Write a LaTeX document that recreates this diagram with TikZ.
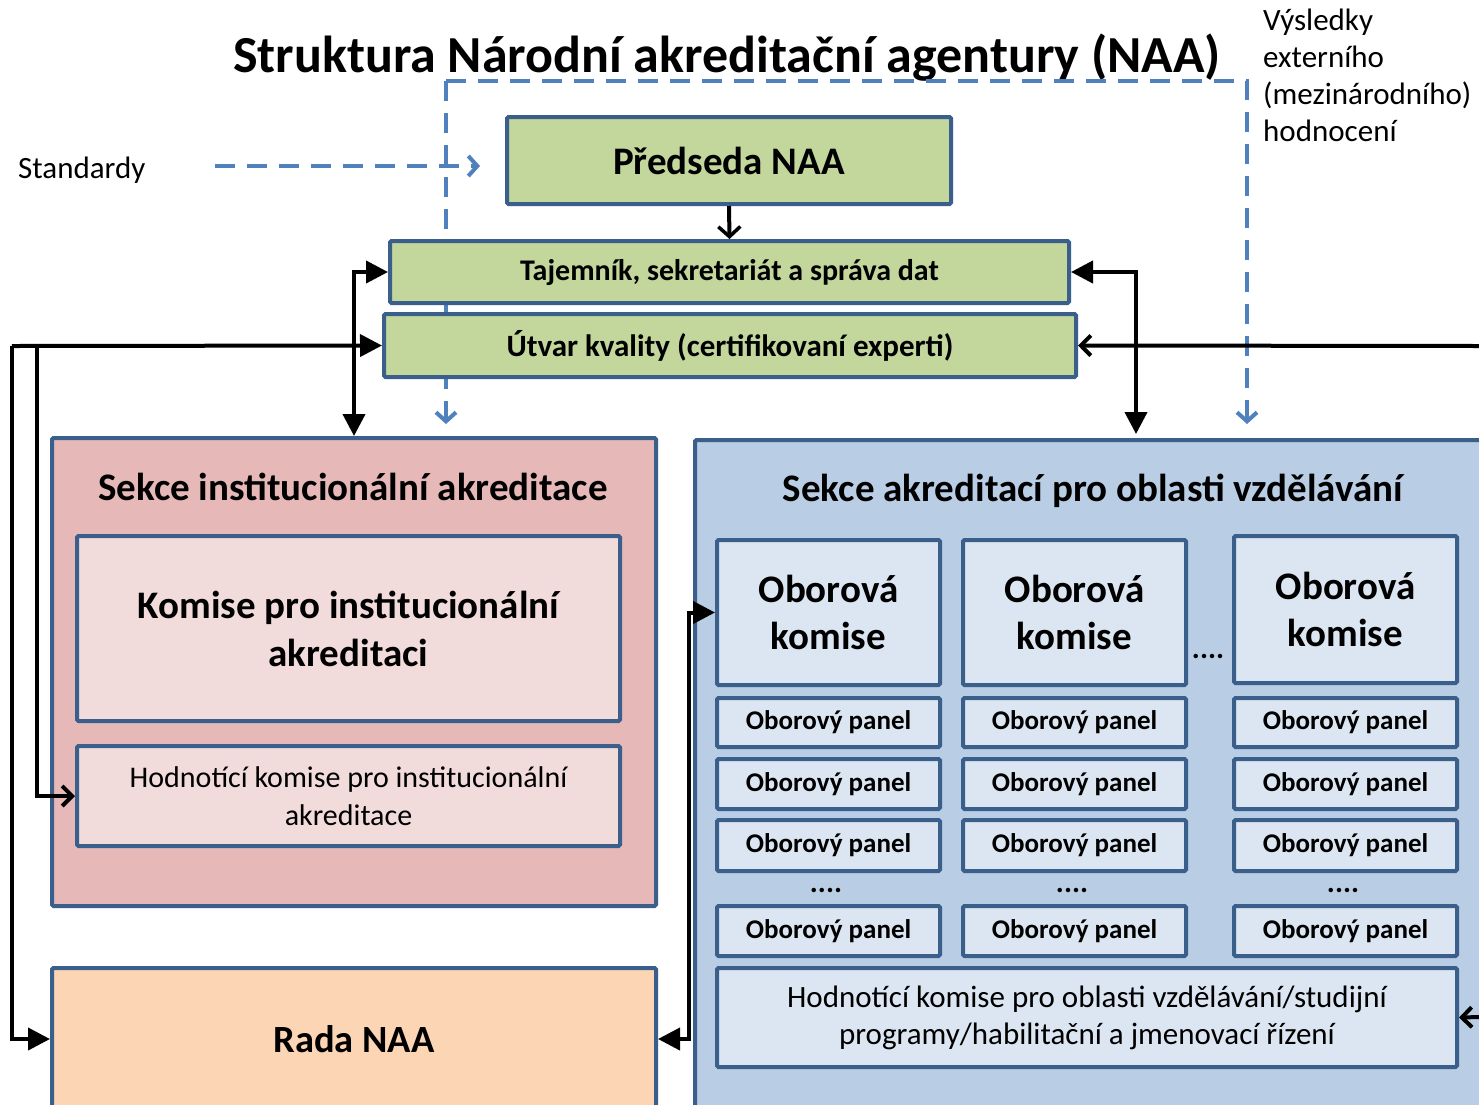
\documentclass[tikz,border=0pt]{standalone}
\usepackage{fontspec}
\setmainfont{Carlito}
\usetikzlibrary{arrows.meta}
\definecolor{bord}{RGB}{58,95,139}
\definecolor{grn}{RGB}{195,214,155}
\definecolor{pinkO}{RGB}{230,185,184}
\definecolor{pinkI}{RGB}{242,220,219}
\definecolor{peach}{RGB}{252,213,181}
\definecolor{blueO}{RGB}{185,205,229}
\definecolor{blueI}{RGB}{220,230,242}
\definecolor{dblue}{RGB}{79,129,189}
\newcommand{\fs}[2]{\fontsize{#1}{#2}\selectfont}
\tikzset{
  box/.style={draw=bord, line width=4pt, rounded corners=1.5pt, inner sep=0pt, align=center, text=black},
  panel/.style={box, fill=blueI, minimum width=223pt, minimum height=50pt, font=\fs{27}{32}\bfseries},
  komise/.style={box, fill=blueI, minimum width=223pt, font=\fs{39}{47}\bfseries},
  blk/.style={draw=black, line width=4pt},
  fillarr/.style={-{Triangle[length=22pt,width=22pt]}},
  openarr/.style={-{Straight Barb[length=10pt,width=20pt,line width=4pt]}},
  dashblue/.style={draw=dblue, line width=4pt, dash pattern=on 20pt off 12pt},
  dots/.style={font=\fs{30}{36}\bfseries, inner sep=0pt},
}
\begin{document}
\begin{tikzpicture}[x=1pt,y=-1pt]
\useasboundingbox[fill=white] (0,0) rectangle (1479,1104);

% title and free texts
\node[font=\fs{52}{60}\bfseries, inner sep=0pt] (title) at (727,58) {Struktura Národní akreditační agentury (NAA)};
\node[font=\fs{31}{37}, inner sep=0pt, anchor=west] (std) at (18,170) {Standardy};
\node[font=\fs{31}{37}, inner sep=0pt, anchor=north west, align=left] (vys) at (1263,9)
  {Výsledky\\ externího\\ (mezinárodního)\\ hodnocení};

% dashed blue lines (behind boxes)
\coordinate (dTL) at (446,81);
\coordinate (dTR) at (1247,81);
\coordinate (dBL) at (446,424);
\coordinate (dBR) at (1247,424);
\draw[dashblue, -{Straight Barb[length=9pt,width=20pt,line width=4pt]}] (dTL) -- (dBL);
\draw[dashblue, -{Straight Barb[length=9pt,width=20pt,line width=4pt]}] (dTL) -- (dTR) -- (dBR);
\coordinate (stdStart) at (215,166);
\coordinate (stdEnd) at (480,166);
\draw[dashblue, -{Straight Barb[length=9pt,width=20pt,line width=4pt]}] (stdStart) -- (stdEnd);

% top boxes
\node[box, fill=grn, minimum width=444pt, minimum height=87pt, font=\fs{39}{47}\bfseries] (pred) at (729,160.5) {Předseda NAA};
\node[box, fill=grn, minimum width=679pt, minimum height=62pt, font=\fs{30}{36}\bfseries] (taj) at (729.5,272) {\raisebox{-2pt}{Tajemník, sekretariát a správa dat}};
\node[box, fill=grn, minimum width=692pt, minimum height=63pt, font=\fs{31}{37}\bfseries] (utv) at (730,345.5) {Útvar kvality (certifikovaní experti)};

% left section
\node[box, fill=pinkO, minimum width=604pt, minimum height=468pt] (sinst) at (354,672) {};
\node[font=\fs{39}{47}\bfseries, inner sep=0pt] (sinstT) at (353,487) {Sekce institucionální akreditace};
\node[box, fill=pinkI, minimum width=543pt, minimum height=185pt, font=\fs{39}{48}\bfseries] (kinst) at (348.5,628.5) {Komise pro institucionální\\ akreditaci};
\node[box, fill=pinkI, minimum width=543pt, minimum height=100pt, font=\fs{30}{38}] (hinst) at (348.5,796) {Hodnotící komise pro institucionální\\ akreditace};
\node[box, fill=peach, minimum width=604pt, minimum height=142pt, font=\fs{38.5}{46}\bfseries] (rada) at (354,1039) {Rada NAA};

% right section
\node[box, fill=blueO, minimum width=810pt, minimum height=700pt, anchor=north west] (sakr) at (693,438) {};
\node[font=\fs{39}{47}\bfseries, inner sep=0pt] (sakrT) at (1093,491) {Sekce akreditací pro oblasti vzdělávání};

\node[komise, minimum height=145pt] (k1) at (828.5,612.5) {Oborová\\ komise};
\node[komise, minimum height=145pt] (k2) at (1074.5,612.5) {Oborová\\ komise};
\node[komise, minimum height=147pt] (k3) at (1345.5,609.5) {Oborová\\ komise};
\node[dots] (dk) at (1208,656) {....};

\foreach \c/\x in {1/828.5, 2/1074.5, 3/1345.5}{
  \node[panel, minimum height=49pt] (p\c a) at (\x,722.5) {Oborový panel};
  \node[panel] (p\c b) at (\x,784) {Oborový panel};
  \node[panel, minimum height=51pt] (p\c c) at (\x,845.5) {Oborový panel};
  \node[panel] (p\c d) at (\x,931) {Oborový panel};
}
\node[dots] (d1) at (826,890) {....};
\node[dots] (d2) at (1072,890) {....};
\node[dots] (d3) at (1343,890) {....};

\node[box, fill=blueI, minimum width=740pt, minimum height=99pt, font=\fs{31}{37}] (hobl) at (1087,1017.5) {Hodnotící komise pro oblasti vzdělávání/studijní\\ programy/habilitační a jmenovací řízení};

% black connectors
\draw[blk, -{Straight Barb[length=10pt,width=22pt,line width=3.5pt]}] (pred.south) -- (taj.north);
\draw[blk, {Triangle[length=22pt,width=22pt]}-{Triangle[length=22pt,width=22pt]}] (taj.west) -| (sinst.north);
\coordinate (ra) at (1136,434);
\draw[blk, {Triangle[length=22pt,width=22pt]}-{Triangle[length=22pt,width=22pt]}] (taj.east) -| (ra);
\coordinate (l1) at (12,346);
\coordinate (l2) at (37,346);
\draw[blk, fillarr] (l1) -- (utv.west);
\draw[blk, fillarr] (l1) |- (rada.west);
\draw[blk, openarr] (l2) |- (hinst.west);
\coordinate (r1) at (1481,346);
\draw[blk, openarr] (r1) -- (utv.east);
\coordinate (r2) at (1481,1017);
\draw[blk, openarr] (r2) -- (hobl.east);
\draw[blk, {Triangle[length=22pt,width=22pt]}-{Triangle[length=22pt,width=22pt]}] (rada.east) -- ++(31,0) |- (k1.west);
\end{tikzpicture}
\end{document}
